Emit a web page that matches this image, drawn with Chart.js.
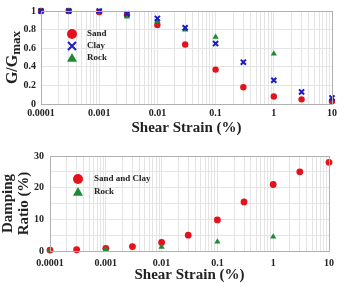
<!DOCTYPE html>
<html>
<head>
<meta charset="utf-8">
<script src="https://cdn.jsdelivr.net/npm/chart.js@4"></script>
<style>
  html, body { margin: 0; padding: 0; background: #fff; }
  #wrap { width: 340px; height: 283px; }
  .box { position: relative; width: 340px; }
</style>
</head>
<body>
<div id="wrap">
  <div class="box" style="height:140px"><canvas id="modulusChart"></canvas></div>
  <div class="box" style="height:143px"><canvas id="dampingChart"></canvas></div>
</div>
<script>
// shear strain (%) where the points were measured
const strain = [0.0001, 0.0003, 0.001, 0.003, 0.01, 0.03, 0.1, 0.3, 1, 3, 10];
const rockStrainG = [0.0001, 0.0003, 0.001, 0.003, 0.01, 0.03, 0.1, 1];
const rockStrainD = [0.0001, 0.001, 0.01, 0.1, 1];

// G/Gmax
const sandG = [1, 1, 0.99, 0.96, 0.85, 0.64, 0.37, 0.18, 0.08, 0.05, 0.03];
const clayG = [1, 1, 1, 0.97, 0.92, 0.82, 0.65, 0.45, 0.255, 0.13, 0.065];
const rockG = [1, 1, 0.99, 0.94, 0.89, 0.80, 0.72, 0.54];

// damping ratio (%)
const sandClayD = [0.3, 0.4, 0.85, 1.4, 2.7, 5.0, 9.8, 15.5, 21, 25, 28];
const rockD = [0.2, 0.5, 1.3, 2.9, 4.5];

const xTickLabels = ["0.0001", "0.001", "0.01", "0.1", "1", "10"];
const gTickLabels = ["0", "0.2", "0.4", "0.6", "0.8", "1"];
const dTickLabels = ["0", "10", "20", "30"];

const RED = "#e3121b";
const BLUE = "#1b1bc4";
const GREEN = "#1e8b34";
const FONT = "'Liberation Serif', serif";

function pts(xs, ys) {
    return xs.map((x, i) => ({ x: x, y: ys[i] }));
}

// log axis: gridline at every 1..9 x 10^n, label only on decades
function logAxis(padTop) {
    return {
        type: "logarithmic",
        min: 0.0001,
        max: 10,
        afterBuildTicks: function (scale) {
            const ticks = [];
            for (let e = -4; e <= 1; e++) {
                for (let d = 1; d <= 9; d++) {
                    const v = d * Math.pow(10, e);
                    if (v <= 10.0001) ticks.push({ value: v });
                }
            }
            scale.ticks = ticks;
        },
        ticks: {
            autoSkip: false,
            maxRotation: 0,
            padding: padTop,
            color: "#222",
            font: { family: FONT, size: 10, weight: "bold" },
            callback: function (v) {
                const e = Math.round(Math.log10(v));
                if (Math.abs(v - Math.pow(10, e)) < 1e-9 * Math.pow(10, e)) return xTickLabels[e + 4];
                return "";
            }
        },
        grid: { color: "#e4e4e4", drawTicks: false },
        border: { color: "#9a9a9a" }
    };
}

// frame + small in-chart legend + rotated y title
const framePlugin = {
    id: "frame",
    afterDatasetsDraw(chart, args, opts) {
        const ctx = chart.ctx;
        const a = chart.chartArea;
        ctx.save();
        ctx.strokeStyle = "#b0b0b0";
        ctx.lineWidth = 1;
        ctx.strokeRect(a.left + 0.5, a.top + 0.5, a.right - a.left, a.bottom - a.top);

        // legend
        const lg = opts.legend || [];
        ctx.font = "bold 9px " + FONT;
        ctx.textBaseline = "middle";
        lg.forEach(function (it, i) {
            const x = opts.legX, y = opts.legY + i * opts.legGap;
            drawMarker(ctx, it.style, it.color, x, y, 5);
            ctx.fillStyle = "#222";
            ctx.textAlign = "left";
            ctx.fillText(it.label, opts.textX, y);
        });
        ctx.restore();
    },
    afterDraw(chart, args, opts) {
        if (!opts.gTitle) return;
        const ctx = chart.ctx;
        const a = chart.chartArea;
        ctx.save();
        ctx.translate(17, (a.top + a.bottom) / 2);
        ctx.rotate(-Math.PI / 2);
        ctx.fillStyle = "#222";
        ctx.textBaseline = "alphabetic";
        ctx.font = "bold 16px " + FONT;
        const w1 = ctx.measureText("G/G").width;
        ctx.font = "bold 13px " + FONT;
        const w2 = ctx.measureText("max").width;
        const start = -(w1 + w2) / 2;
        ctx.font = "bold 16px " + FONT;
        ctx.fillText("G/G", start, 0);
        ctx.font = "bold 13px " + FONT;
        ctx.fillText("max", start + w1, 3);
        ctx.restore();
    }
};

function drawMarker(ctx, style, color, x, y, r) {
    ctx.save();
    ctx.fillStyle = color;
    ctx.strokeStyle = color;
    if (style === "circle") {
        ctx.beginPath();
        ctx.arc(x, y, r, 0, Math.PI * 2);
        ctx.fill();
    } else if (style === "crossRot") {
        ctx.lineWidth = 2;
        ctx.beginPath();
        ctx.moveTo(x - r * 0.8, y - r * 0.8);
        ctx.lineTo(x + r * 0.8, y + r * 0.8);
        ctx.moveTo(x + r * 0.8, y - r * 0.8);
        ctx.lineTo(x - r * 0.8, y + r * 0.8);
        ctx.stroke();
    } else {
        ctx.beginPath();
        ctx.moveTo(x, y - r);
        ctx.lineTo(x + r, y + r * 0.75);
        ctx.lineTo(x - r, y + r * 0.75);
        ctx.closePath();
        ctx.fill();
    }
    ctx.restore();
}

// ---- G/Gmax chart ----
new Chart(document.getElementById("modulusChart"), {
    type: "scatter",
    data: {
        datasets: [
            { label: "Sand", data: pts(strain, sandG), pointStyle: "circle", pointRadius: 3.2,
              backgroundColor: RED, borderColor: RED, borderWidth: 0, order: 3, clip: false },
            { label: "Rock", data: pts(rockStrainG, rockG), pointStyle: "triangle", pointRadius: 3.6,
              backgroundColor: GREEN, borderColor: GREEN, borderWidth: 0, order: 2, clip: false },
            { label: "Clay", data: pts(strain, clayG), pointStyle: "crossRot", pointRadius: 3.6,
              backgroundColor: BLUE, borderColor: BLUE, borderWidth: 2, order: 1, clip: false }
        ]
    },
    options: {
        responsive: true,
        maintainAspectRatio: false,
        animation: false,
        layout: { padding: { left: 0, right: 7, top: 6, bottom: 0 } },
        plugins: {
            legend: { display: false },
            tooltip: { enabled: false },
            frame: {
                gTitle: true,
                legX: 72, legY: 34, legGap: 12, textX: 87,
                legend: [
                    { label: "Sand", style: "circle", color: RED },
                    { label: "Clay", style: "crossRot", color: BLUE },
                    { label: "Rock", style: "triangle", color: GREEN }
                ]
            }
        },
        scales: {
            x: Object.assign(logAxis(3), {
                title: {
                    display: true, text: "Shear Strain (%)", color: "#222",
                    font: { family: FONT, size: 15, weight: "bold", lineHeight: 1 },
                    padding: { top: 0, bottom: 4 }
                },
                afterFit: function (s) { s.height = 36; }
            }),
            y: {
                min: 0,
                max: 1,
                ticks: {
                    stepSize: 0.1,
                    padding: 5,
                    color: "#222",
                    font: { family: FONT, size: 10, weight: "bold" },
                    callback: function (v) {
                        const k = Math.round(v * 10);
                        return k % 2 === 0 ? gTickLabels[k / 2] : "";
                    }
                },
                grid: { color: "#e4e4e4", drawTicks: false },
                border: { color: "#9a9a9a" },
                afterFit: function (s) { s.width = 41; }
            }
        }
    },
    plugins: [framePlugin]
});

// ---- damping chart ----
new Chart(document.getElementById("dampingChart"), {
    type: "scatter",
    data: {
        datasets: [
            { label: "Sand and Clay", data: pts(strain, sandClayD), pointStyle: "circle", pointRadius: 3.4,
              backgroundColor: RED, borderColor: RED, borderWidth: 0, order: 2, clip: false },
            { label: "Rock", data: pts(rockStrainD, rockD), pointStyle: "triangle", pointRadius: 3.6,
              backgroundColor: GREEN, borderColor: GREEN, borderWidth: 0, order: 1, clip: false }
        ]
    },
    options: {
        responsive: true,
        maintainAspectRatio: false,
        animation: false,
        layout: { padding: { left: 0, right: 6, top: 16, bottom: 0 } },
        plugins: {
            legend: { display: false },
            tooltip: { enabled: false },
            frame: {
                legX: 78, legY: 39, legGap: 13, textX: 94,
                legend: [
                    { label: "Sand and Clay", style: "circle", color: RED },
                    { label: "Rock", style: "triangle", color: GREEN }
                ]
            }
        },
        scales: {
            x: Object.assign(logAxis(6), {
                title: {
                    display: true, text: "Shear Strain (%)", color: "#222",
                    font: { family: FONT, size: 15, weight: "bold", lineHeight: 1 },
                    padding: { top: 0, bottom: 0 }
                },
                afterFit: function (s) { s.height = 32; }
            }),
            y: {
                min: 0,
                max: 30,
                title: {
                    display: true, text: ["Damping", "Ratio (%)"], color: "#222",
                    font: { family: FONT, size: 15, weight: "bold", lineHeight: 1.05 },
                    padding: { top: 0, bottom: 0 }
                },
                ticks: {
                    stepSize: 5,
                    padding: 6,
                    color: "#222",
                    font: { family: FONT, size: 10, weight: "bold" },
                    callback: function (v) {
                        return v % 10 === 0 ? dTickLabels[v / 10] : "";
                    }
                },
                grid: { color: "#e4e4e4", drawTicks: false },
                border: { color: "#9a9a9a" },
                afterFit: function (s) { s.width = 50; }
            }
        }
    },
    plugins: [framePlugin]
});
</script>
</body>
</html>
